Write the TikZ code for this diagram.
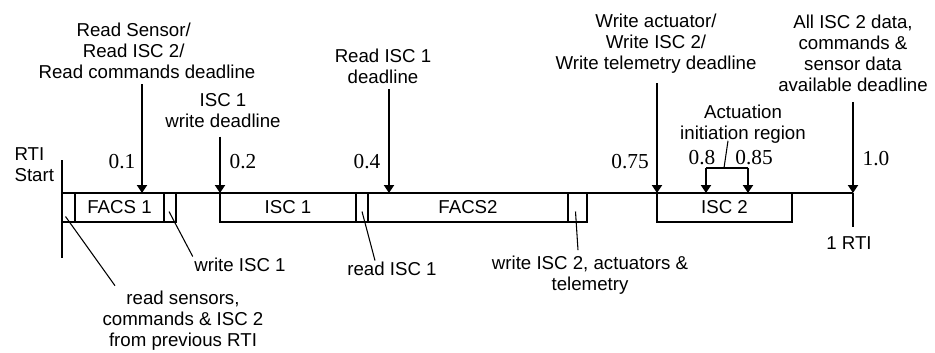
\documentclass[tikz,border=0pt]{standalone}
\usepackage{fontspec}
\setmainfont{Liberation Sans}
\newfontfamily\numfont{Liberation Serif}
\usetikzlibrary{arrows.meta}
\usetikzlibrary{calc}
\usetikzlibrary{positioning}

\begin{document}
\begin{tikzpicture}[x=0.75pt,y=-0.75pt,
	axisline/.style={line width=2pt},
	deadline/.style={line width=2pt,-{Triangle[width=7.5pt,length=6pt]}},
	leader/.style={line width=0.8pt},
	phasebox/.style={draw,rectangle,line width=2pt,inner sep=0pt,outer sep=0pt,
		minimum height=21.75pt,anchor=north west,font=\fontsize{14}{15.75}\selectfont},
	txt/.style={align=center,inner sep=1pt,font=\fontsize{14}{15.75}\selectfont},
	tval/.style={inner sep=0pt,font=\numfont\fontsize{16}{18}\selectfont}]

	\useasboundingbox (0,0) rectangle (935,353);

	\coordinate (t0)   at (62,193);
	\coordinate (t01)  at (142,193);
	\coordinate (t02)  at (220,193);
	\coordinate (t04)  at (389,193);
	\coordinate (t075) at (657,193);
	\coordinate (t08)  at (706,193);
	\coordinate (t085) at (748,193);
	\coordinate (t10)  at (853,193);
	\coordinate (brk)  at (724,168);

	\begin{scope}[every node/.style={phasebox}]
		\node[minimum width=9.75pt]                    (s1)    at (t0) {};
		\node[minimum width=66.75pt,right=0pt of s1]   (facs1) {FACS 1};
		\node[minimum width=9pt,right=0pt of facs1]    (s2)    {};
		\node[minimum width=102pt]                     (isc1)  at (t02) {ISC 1};
		\node[minimum width=9pt,right=0pt of isc1]     (s3)    {};
		\node[minimum width=150pt,right=0pt of s3]     (facs2) {FACS2};
		\node[minimum width=14.25pt,right=0pt of facs2] (s4)   {};
		\node[minimum width=101.25pt]                  (isc2)  at (t075) {ISC 2};
	\end{scope}

	\draw[axisline] (t0) -- (t10);
	\draw[axisline] ([yshift=24.75pt]t0) -- ([yshift=-48.75pt]t0);
	\draw[axisline] (t10) -- ([yshift=-25.5pt]t10);

	\begin{scope}[every node/.style={txt}]
		\node[align=left,anchor=west] (rtiStart) at (13,165) {RTI\\Start};
		\node (readTxt)     at (147,51)  {Read Sensor/\makebox[20pt]{}\\Read ISC 2/\makebox[20pt]{}\\Read commands deadline};
		\node (isc1Txt)     at (223,111) {ISC 1\\write deadline};
		\node (readIsc1Txt) at (383,66)  {Read ISC 1\\deadline};
		\node (writeTxt)    at (656,44)  {Write actuator/\\Write ISC 2/\\Write telemetry deadline};
		\node (allTxt)      at (853,53)  {All ISC 2 data,\\commands \&\\sensor data\\available deadline};
		\node (actTxt)      at (743,124) {Actuation\\initiation region};
		\node (wIsc1Txt)    at (240,265) {write ISC 1};
		\node (readSensTxt) at (183,321) {read sensors,\\commands \& ISC 2\\from previous RTI};
		\node (rIsc1Txt)    at (392,269) {read ISC 1};
		\node (wIsc2Txt)    at (590,275) {write ISC 2, actuators \&\\telemetry};
		\node (rtiEnd)      at (849,243) {1 RTI};
	\end{scope}

	\begin{scope}[every node/.style={tval}]
		\node (n01)  at (122,162) {0.1};
		\node (n02)  at (243,162) {0.2};
		\node (n04)  at (367,162) {0.4};
		\node (n075) at (630,162) {0.75};
		\node (n08)  at (702,158) {0.8};
		\node (n085) at (754,158) {0.85};
		\node (n10)  at (876,159) {1.0};
	\end{scope}

	\draw[deadline,shorten <=2.75pt] (readTxt.south -| t01) -- (t01);
	\draw[deadline,shorten <=5.25pt] (isc1Txt.south -| t02) -- (t02);
	\draw[deadline,shorten <=3pt]    (readIsc1Txt.south -| t04) -- (t04);
	\draw[deadline,shorten <=6pt]    (writeTxt.south -| t075) -- (t075);
	\draw[deadline,shorten <=6.75pt] (allTxt.south -| t10) -- (t10);
	\draw[axisline] (brk -| t08) -- (brk -| t085);
	\draw[deadline] (brk -| t08) -- (t08);
	\draw[deadline] (brk -| t085) -- (t085);

	\draw[leader] (brk) -- ($(actTxt.south)+(-15,-4)$);
	\draw[leader] ($(s1.center)+(-3,9)$) -- ($(readSensTxt.north west)+(14,-4)$);
	\draw[leader] ($(s2.center)+(-1,4)$) -- (wIsc1Txt.north west);
	\draw[leader] ($(s3.center)+(0,4)$)  -- ($(rIsc1Txt.north)+(-17,0)$);
	\draw[leader] ($(s4.center)+(-2,4)$) -- ($(wIsc2Txt.north)+(-12,-4)$);
\end{tikzpicture}
\end{document}
